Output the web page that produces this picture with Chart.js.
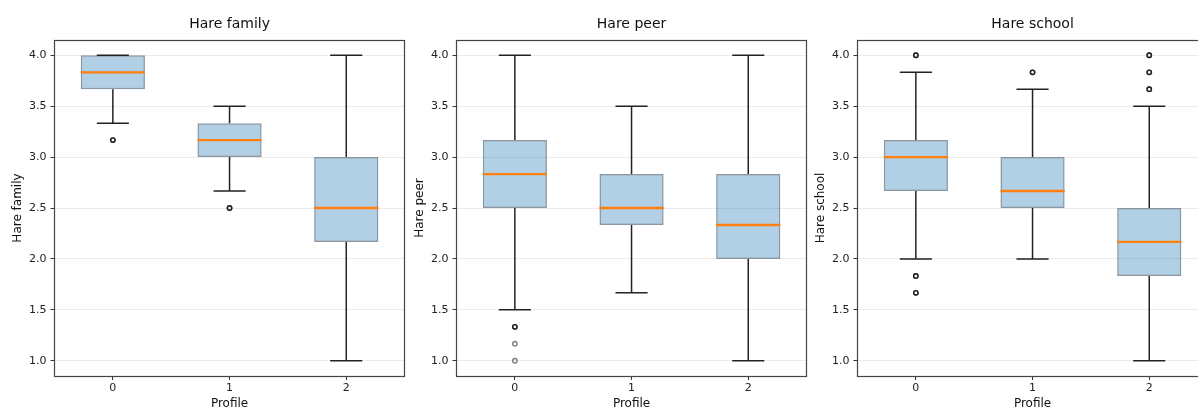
<!DOCTYPE html>
<html><head><meta charset="utf-8">
<script src="https://cdn.jsdelivr.net/npm/chart.js@4"></script>
<style>
html,body{margin:0;padding:0;background:#fff;overflow:hidden;width:1198px;height:412px;position:relative;}
canvas{position:absolute;top:0;}
</style></head><body>
<canvas id="c1" width="410" height="412" style="left:0px"></canvas>
<canvas id="c2" width="410" height="412" style="left:402px"></canvas>
<canvas id="c3" width="410" height="412" style="left:803px"></canvas>
<script>
// ---- data ----
const categories = ['0', '1', '2'];
const yTickValues = [1.0, 1.5, 2.0, 2.5, 3.0, 3.5, 4.0];
const panelTitles = ['Hare family', 'Hare peer', 'Hare school'];
const xAxisLabel = 'Profile';

const familyLow      = [3.333, 2.667, 1.0];
const familyQ1       = [3.667, 3.0,   2.167];
const familyMedian   = [3.833, 3.167, 2.5];
const familyQ3       = [4.0,   3.333, 3.0];
const familyHigh     = [4.0,   3.5,   4.0];
const familyOutliers = [[3.167, 3.167, 3.167], [2.5, 2.5, 2.5], []];

const peerLow      = [1.5,   1.667, 1.0];
const peerQ1       = [2.5,   2.333, 2.0];
const peerMedian   = [2.833, 2.5,   2.333];
const peerQ3       = [3.167, 2.833, 2.833];
const peerHigh     = [4.0,   3.5,   4.0];
const peerOutliers = [[1.333, 1.333, 1.333, 1.167, 1.0], [], []];

const schoolLow      = [2.0,   2.0,   1.0];
const schoolQ1       = [2.667, 2.5,   1.833];
const schoolMedian   = [3.0,   2.667, 2.167];
const schoolQ3       = [3.167, 3.0,   2.5];
const schoolHigh     = [3.833, 3.667, 3.5];
const schoolOutliers = [[4.0, 4.0, 4.0, 1.833, 1.833, 1.833, 1.667, 1.667, 1.667], [3.833, 3.833, 3.833], [4.0, 4.0, 4.0, 3.833, 3.833, 3.833, 3.667, 3.667, 3.667]];

// ---- styling ----
const FONT = 'DejaVu Sans';
const BOX_FRACTION = 0.55;
const CAP_FRACTION = 0.275;

const framePlugin = {
  id: 'frame',
  afterDatasetsDraw(chart) {
    const {ctx, chartArea: a} = chart;
    const l = Math.floor(a.left) + 0.5, t = Math.floor(a.top) + 0.5;
    const r = Math.floor(a.right) + 0.5, b = Math.floor(a.bottom) + 0.5;
    ctx.save();
    ctx.strokeStyle = '#444';
    ctx.lineWidth = 1.2;
    ctx.strokeRect(l, t, r - l, b - t);
    ctx.restore();
  }
};

function makePanel(canvasId, title, low, q1, med, q3, high, outliers) {
  const whiskers = [], caps = [], medians = [], fliers = [];
  categories.forEach((c, i) => {
    whiskers.push({x: i, y: low[i]}, {x: i, y: q1[i]}, {x: i, y: null},
                  {x: i, y: q3[i]}, {x: i, y: high[i]}, {x: i, y: null});
    caps.push({x: i - CAP_FRACTION / 2, y: low[i]}, {x: i + CAP_FRACTION / 2, y: low[i]}, {x: i, y: null},
              {x: i - CAP_FRACTION / 2, y: high[i]}, {x: i + CAP_FRACTION / 2, y: high[i]}, {x: i, y: null});
    medians.push({x: i - BOX_FRACTION / 2, y: med[i]}, {x: i + BOX_FRACTION / 2, y: med[i]}, {x: i, y: null});
    outliers[i].forEach(v => fliers.push({x: i, y: v}));
  });

  const lineDs = (data, color, width, order) => ({
    type: 'line', data, xAxisID: 'x2', yAxisID: 'y', borderColor: color, borderWidth: width,
    pointRadius: 0, spanGaps: false, tension: 0, fill: false, order, borderCapStyle: 'butt'
  });

  return new Chart(document.getElementById(canvasId), {
    data: {
      labels: categories,
      datasets: [
        {
          type: 'bar', data: categories.map((c, i) => [q1[i], q3[i]]),
          xAxisID: 'x', yAxisID: 'y', grouped: false,
          backgroundColor: 'rgba(31,119,180,0.35)',
          borderColor: 'rgba(100,118,132,0.75)', borderWidth: 1.5, borderSkipped: false,
          barPercentage: BOX_FRACTION, categoryPercentage: 1.0, order: 4
        },
        lineDs(whiskers, '#222', 1.5, 3),
        lineDs(caps, '#222', 1.5, 2),
        lineDs(medians, '#ff7f0e', 2.3, 1),
        {
          type: 'scatter', data: fliers, xAxisID: 'x2', yAxisID: 'y',
          pointStyle: 'circle', pointRadius: 2.2, pointBorderWidth: 1.4,
          pointBorderColor: 'rgba(0,0,0,0.5)', pointBackgroundColor: 'rgba(255,255,255,0)',
          borderColor: 'rgba(0,0,0,0.5)', backgroundColor: 'rgba(255,255,255,0)',
          showLine: false, order: 0
        }
      ]
    },
    options: {
      responsive: false, animation: false, devicePixelRatio: 1,
      layout: {padding: {left: 0, right: 4.5, top: 0, bottom: 0}},
      plugins: {
        legend: {display: false}, tooltip: {enabled: false},
        title: {
          display: true, text: title, fullSize: false, color: '#111',
          font: {family: FONT, size: 14, weight: 'normal', lineHeight: 1.2},
          padding: {top: 16, bottom: 7.2}
        }
      },
      scales: {
        x: {
          type: 'category', position: 'bottom', offset: true,
          grid: {display: true, drawOnChartArea: false, offset: false, tickLength: 4, tickColor: '#333', tickWidth: 1},
          border: {display: false},
          ticks: {color: '#222', padding: 2, font: {family: FONT, size: 11}},
          title: {display: true, text: xAxisLabel, color: '#111', font: {family: FONT, size: 12}, padding: {top: 0, bottom: 1}},
          afterFit(s) { s.height = 36; }
        },
        x2: {type: 'linear', min: -0.5, max: 2.5, display: false},
        y: {
          type: 'linear', min: 0.85, max: 4.15,
          afterBuildTicks(s) { s.ticks = yTickValues.map(v => ({value: v})); },
          grid: {color: '#ebebeb', lineWidth: 1, tickLength: 4, tickColor: '#333', tickWidth: 1},
          border: {display: false},
          ticks: {color: '#222', padding: 4, font: {family: FONT, size: 11}, callback: v => Number(v).toFixed(1)},
          title: {display: true, text: title, color: '#111', font: {family: FONT, size: 12}, padding: {top: 10.5, bottom: 0}},
          afterFit(s) { s.width = 54.5; }
        }
      }
    },
    plugins: [framePlugin]
  });
}

makePanel('c1', panelTitles[0], familyLow, familyQ1, familyMedian, familyQ3, familyHigh, familyOutliers);
makePanel('c2', panelTitles[1], peerLow, peerQ1, peerMedian, peerQ3, peerHigh, peerOutliers);
makePanel('c3', panelTitles[2], schoolLow, schoolQ1, schoolMedian, schoolQ3, schoolHigh, schoolOutliers);
</script>
</body></html>
